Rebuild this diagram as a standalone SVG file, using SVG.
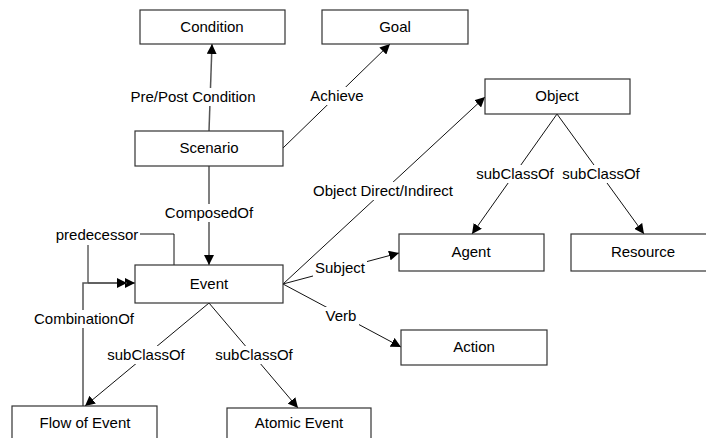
<svg xmlns="http://www.w3.org/2000/svg" width="706" height="438" viewBox="0 0 706 438">
  <style>
    .box rect { fill: #fff; stroke: #333; stroke-width: 1.2; }
    text { font-family: "Liberation Sans", Arial, sans-serif; font-size: 15px; fill: #000; text-anchor: middle; }
    .edge { fill: none; stroke: #111; stroke-width: 1; }
    .vert { fill: none; stroke: #555; stroke-width: 1.5; }
    .lbl rect { fill: #fff; stroke: none; }
  </style>
  <defs>
    <marker id="arrow" viewBox="0 0 10 10" refX="10" refY="5" markerWidth="10" markerHeight="10" markerUnits="userSpaceOnUse" orient="auto">
      <path d="M0,0 L10,5 L0,10 Z" fill="#000"/>
    </marker>
  </defs>

  <rect width="706" height="438" fill="#fff"/>

  <!-- connectors -->
  <g id="connectors">
    <path class="vert" d="M209,131 L212,44" marker-end="url(#arrow)"/>
    <path class="edge" d="M283,148 L390,44" marker-end="url(#arrow)"/>
    <path class="vert" d="M209,166 L209,265" marker-end="url(#arrow)"/>
    <path class="edge" d="M283,284 L485,97" marker-end="url(#arrow)"/>
    <path class="edge" d="M283,284 L399,253" marker-end="url(#arrow)"/>
    <path class="edge" d="M283,284 L401,347" marker-end="url(#arrow)"/>
    <path class="edge" d="M557,114 L472,234" marker-end="url(#arrow)"/>
    <path class="edge" d="M557,114 L644,234" marker-end="url(#arrow)"/>
    <path class="edge" d="M209,303 L85,406" marker-end="url(#arrow)"/>
    <path class="edge" d="M209,303 L298,408" marker-end="url(#arrow)"/>
    <!-- predecessor loop -->
    <path class="edge" d="M174,265 L174,234 L140,234"/>
    <path class="edge" d="M88,245 L88,283 L135,283" marker-end="url(#arrow)"/>
    <!-- combination loop -->
    <path class="vert" d="M83,406 L83,283 L127,283" marker-end="url(#arrow)"/>

    <!-- connector labels -->
    <g class="lbl">
      <rect x="127" y="88" width="132" height="18"/>
      <text x="193" y="102">Pre/Post Condition</text>
      <rect x="309" y="87" width="57" height="18"/>
      <text x="337" y="101">Achieve</text>
      <rect x="161" y="204" width="96" height="18"/>
      <text x="209" y="218">ComposedOf</text>
      <rect x="310" y="182" width="147" height="18"/>
      <text x="383" y="196">Object Direct/Indirect</text>
      <rect x="313" y="259" width="54" height="18"/>
      <text x="340" y="273">Subject</text>
      <rect x="324" y="307" width="35" height="18"/>
      <text x="341" y="321">Verb</text>
      <rect x="474" y="165" width="82" height="18"/>
      <text x="515" y="179">subClassOf</text>
      <rect x="560" y="165" width="82" height="18"/>
      <text x="601" y="179">subClassOf</text>
      <rect x="105" y="346" width="82" height="18"/>
      <text x="146" y="360">subClassOf</text>
      <rect x="213" y="346" width="82" height="18"/>
      <text x="254" y="360">subClassOf</text>
      <rect x="54" y="226" width="86" height="18"/>
      <text x="97" y="240">predecessor</text>
      <rect x="32" y="310" width="104" height="18"/>
      <text x="84" y="324">CombinationOf</text>
    </g>
  </g>

  <!-- nodes -->
  <g id="condition" class="box"><rect x="140" y="10" width="145" height="34"/><text x="212" y="32">Condition</text></g>
  <g id="goal" class="box"><rect x="322" y="10" width="146" height="34"/><text x="395" y="32">Goal</text></g>
  <g id="scenario" class="box"><rect x="135" y="131" width="148" height="35"/><text x="209" y="153">Scenario</text></g>
  <g id="object" class="box"><rect x="485" y="79" width="145" height="35"/><text x="557" y="101">Object</text></g>
  <g id="event" class="box"><rect x="135" y="265" width="148" height="38"/><text x="209" y="289">Event</text></g>
  <g id="agent" class="box"><rect x="399" y="234" width="145" height="37"/><text x="471" y="257">Agent</text></g>
  <g id="resource" class="box"><rect x="571" y="234" width="144" height="37"/><text x="643" y="257">Resource</text></g>
  <g id="action" class="box"><rect x="401" y="330" width="146" height="35"/><text x="474" y="352">Action</text></g>
  <g id="flow-of-event" class="box"><rect x="12" y="406" width="145" height="40"/><text x="85" y="428">Flow of Event</text></g>
  <g id="atomic-event" class="box"><rect x="227" y="408" width="144" height="40"/><text x="299" y="428">Atomic Event</text></g>
</svg>
